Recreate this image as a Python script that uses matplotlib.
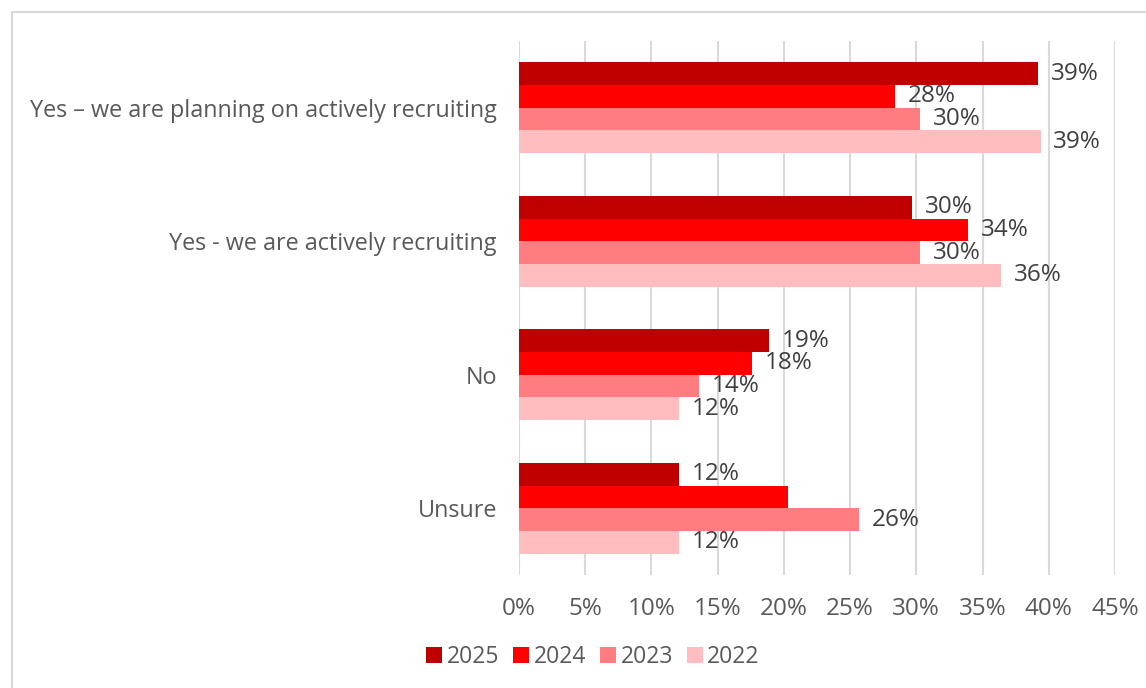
import matplotlib.pyplot as plt
import numpy as np
from matplotlib.patches import Rectangle
from matplotlib.ticker import FuncFormatter

categories = [
    "Yes \u2013 we are planning on actively recruiting",
    "Yes - we are actively recruiting",
    "No",
    "Unsure",
]
years = ["2025", "2024", "2023", "2022"]

# share of respondents (%) per category
values_2025 = [39.2, 29.7, 18.9, 12.1]
values_2024 = [28.4, 33.9, 17.6, 20.3]
values_2023 = [30.3, 30.3, 13.6, 25.7]
values_2022 = [39.4, 36.4, 12.1, 12.1]

# which bars carry a value label (Unsure / 2024 has none)
show_2025 = [True, True, True, True]
show_2024 = [True, True, True, False]
show_2023 = [True, True, True, True]
show_2022 = [True, True, True, True]

colors = ["#C00000", "#FF0000", "#FF7C80", "#FFBDBF"]

series = [values_2025, values_2024, values_2023, values_2022]
shown = [show_2025, show_2024, show_2023, show_2022]

fig = plt.figure(figsize=(11.46, 6.88), dpi=100)
ax = fig.add_axes([519 / 1146, 1 - 575 / 688, (1115 - 519) / 1146, (575 - 41) / 688])

# outer chart frame
fig.patches.append(
    Rectangle((11.5 / 1146, -0.1), 1.2, 1 - 12 / 688 + 0.1,
              transform=fig.transFigure, fill=False,
              edgecolor="#D9D9D9", linewidth=1.5)
)

y = np.arange(len(categories))
bar_h = 0.17
for i, (vals, color, year, flags) in enumerate(zip(series, colors, years, shown)):
    pos = y - 1.5 * bar_h + i * bar_h
    ax.barh(pos, vals, height=bar_h, color=color, label=year, zorder=3)
    for p, v, f in zip(pos, vals, flags):
        if f:
            ax.text(v + 0.95, p, f"{v:.0f}%", va="center", ha="left",
                    fontsize=17.5, color="#404040", family="Open Sans")

ax.set_xlim(0, 45)
ax.set_ylim(3.5, -0.5)
ax.set_xticks(np.arange(0, 46, 5))
ax.xaxis.set_major_formatter(FuncFormatter(lambda x, _: f"{x:.0f}%"))
ax.set_yticks(y)
ax.set_yticklabels(categories)

ax.grid(axis="x", color="#D9D9D9", linewidth=1.5, zorder=0)
for s in ax.spines.values():
    s.set_visible(False)
ax.tick_params(axis="both", length=0, colors="#595959")
ax.tick_params(axis="x", pad=16, labelsize=17.5)
ax.tick_params(axis="y", pad=16, labelsize=16.8)
for lbl in ax.get_xticklabels() + ax.get_yticklabels():
    lbl.set_family("Open Sans")

leg = fig.legend(
    loc="center", bbox_to_anchor=(593 / 1146, 1 - 657 / 688), ncol=4,
    frameon=False, handlelength=0.7, handleheight=0.7, handletextpad=0.2,
    columnspacing=0.6, prop={"family": "Open Sans", "size": 16.5},
)
for t in leg.get_texts():
    t.set_color("#595959")

fig.savefig("out.png", dpi=100)
